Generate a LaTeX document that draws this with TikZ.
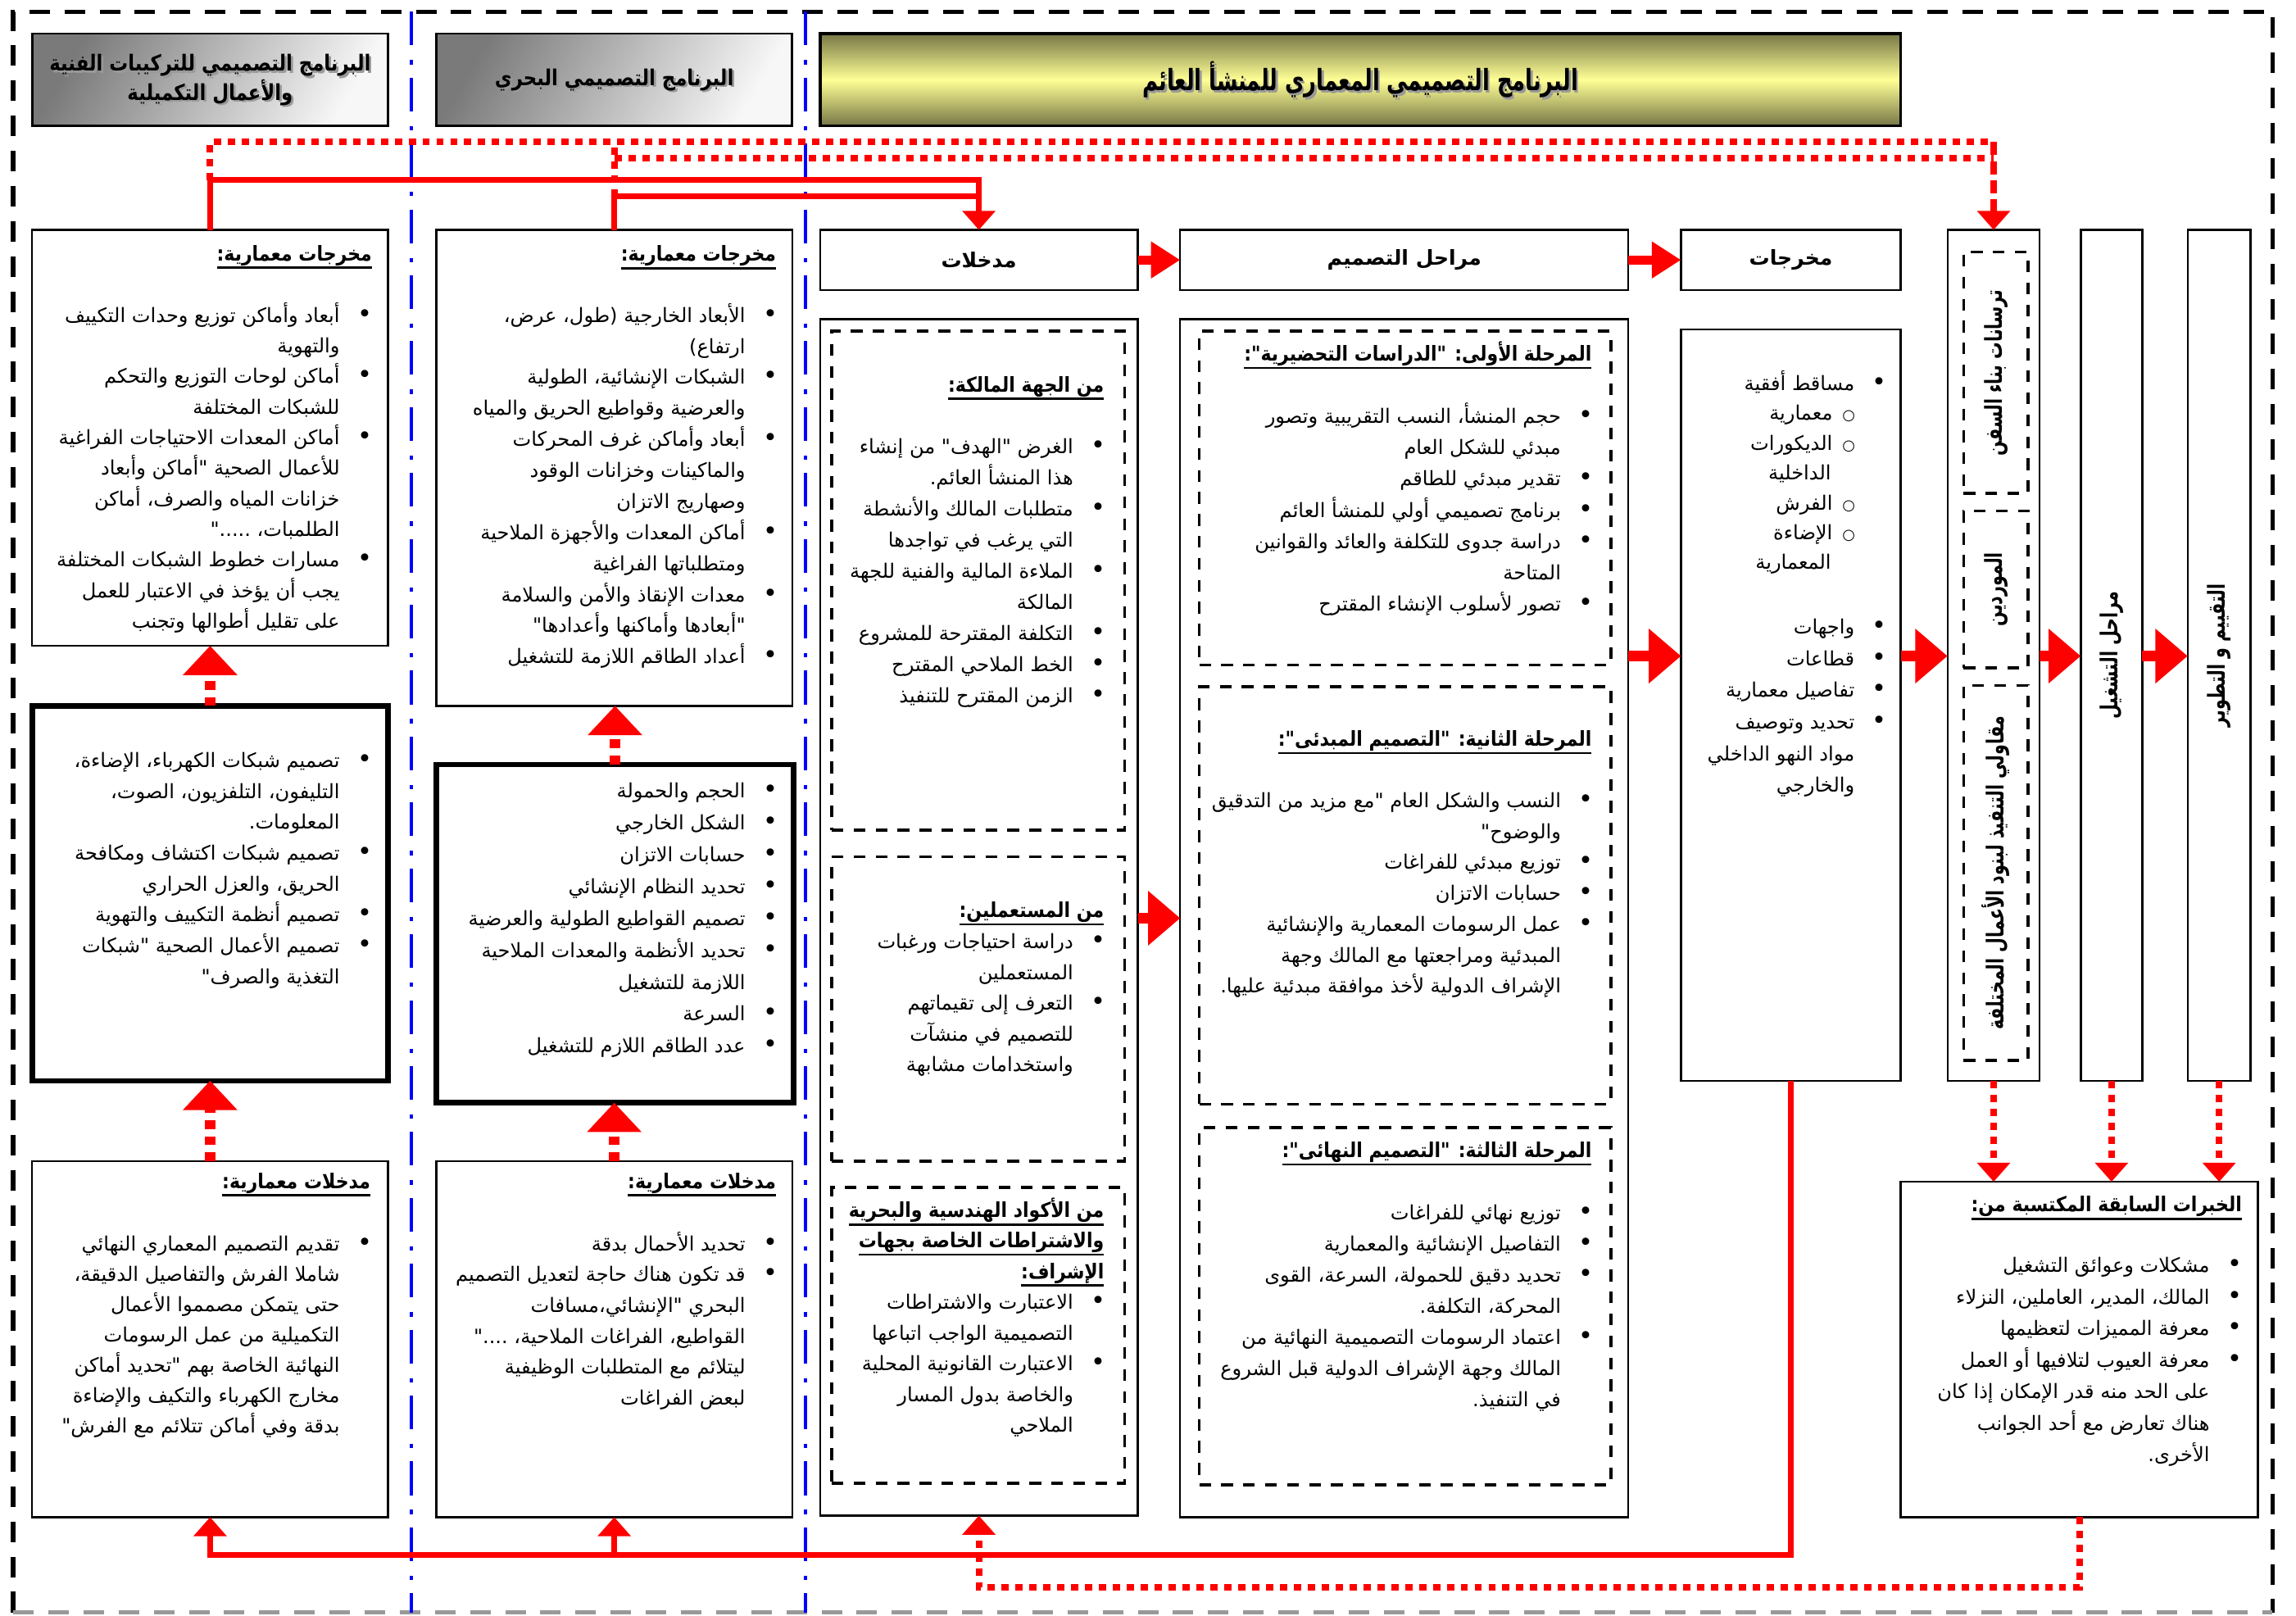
\documentclass[tikz,border=0pt]{standalone}
\usepackage{fontspec}
\usetikzlibrary{arrows.meta}
\TeXXeTstate=1
\newfontfamily\arf[Script=Arabic]{DejaVu Sans}
\newfontfamily\armf[Script=Arabic,FakeStretch=0.85]{DejaVu Sans}
\newfontfamily\artf[Script=Arabic,FakeStretch=0.88]{DejaVu Sans}
\newfontfamily\arcf[Script=Arabic,FakeStretch=0.72]{DejaVu Sans}
\definecolor{hdark}{RGB}{118,118,70}
\definecolor{hlight}{RGB}{255,255,150}
\newcommand\R[1]{\beginR#1\endR}
\newcommand\bul{{\fontsize{17}{17}\selectfont\textbullet}}
\newcommand\bu[1]{\strut\R{#1}\hspace{17pt}\makebox[0pt]{\bul}}
\newcommand\co[1]{\strut\R{#1}\makebox[17pt]{}}
\newcommand\su[1]{\strut\R{#1}\hspace{11pt}\makebox[0pt]{\fontsize{10}{10}\selectfont ○}\makebox[21pt]{}}
\newcommand\suc[1]{\strut\R{#1}\makebox[33pt]{}}
\newcommand\ul[1]{\setbox0=\hbox{#1}\rlap{\rule[-5.5pt]{\wd0}{1.4pt}}\box0}
\newcommand\bsz{13.5}
\newcommand\tb[5]{\node[anchor=north east,inner sep=0pt,outer sep=0pt,align=right,font=\arf\fontsize{\bsz}{#4}\selectfont] (#1) at ({#2},{#3+4-0.7*#4}) {#5};}
\newcommand\tit[4]{\node[anchor=base east,inner sep=0pt,outer sep=0pt,font=\artf\bfseries\fontsize{14}{20}\selectfont] (#1) at ({#2},{#3+4.5}) {\ul{#4}};}
\newcommand\bx[6]{\node[#1,anchor=north west,minimum width=#5pt,minimum height=#6pt] (#2) at (#3,#4) {};}
\begin{document}
\begin{tikzpicture}[x=1pt,y=-1pt,
 box/.style={draw=black,line width=1.3pt,fill=white,inner sep=0pt,outer sep=0pt},
 tbox/.style={box,line width=3.6pt},
 dbox/.style={draw=black,line width=2pt,dash pattern=on 8pt off 7pt,inner sep=0pt,outer sep=0pt},
 gbox/.style={box,line width=1.5pt,left color=black!52,right color=black!3,shading angle=60},
 ybox/.style={box,line width=2pt,top color=hdark,bottom color=hdark,middle color=hlight},
 rsolid/.style={draw=red,line width=4pt},
 rdot/.style={draw=red,line width=4.5pt,dash pattern=on 5pt off 4.5pt},
 bluedd/.style={draw=blue,line width=2.5pt,dash pattern=on 23pt off 10pt on 3pt off 9pt},
 bord/.style={draw=black,line width=3pt,dash pattern=on 14pt off 10pt},
 tipS/.style={-{Triangle[length=13pt,width=22pt]}},
 rbig/.style={draw=red,line width=7pt,-{Triangle[length=22pt,width=36pt]}},
 rhead/.style={draw=red,line width=6pt,-{Triangle[length=20pt,width=24pt]}},
 rvup/.style={draw=red,line width=7pt,dash pattern=on 6pt off 5pt,-{Triangle[length=20pt,width=36pt]}},
 rsup/.style={rsolid,tipS},
 rdotarr/.style={rdot,tipS},
 rdash/.style={draw=red,line width=4.5pt,dash pattern=on 9pt off 4pt,tipS},
 hdr/.style={font=\arf\bfseries\fontsize{14}{20}\selectfont,inner sep=0pt},
 htx/.style={font=\armf\bfseries\fontsize{15}{20}\selectfont,inner sep=0pt,align=center},
 vtx/.style={rotate=90,font=\arcf\bfseries\fontsize{16}{18}\selectfont,inner sep=0pt}
]
\useasboundingbox (0,0) rectangle (1568,1103);
\fill[white] (0,0) rectangle (1568,1103);
% helper levels
\coordinate (yA) at (0,97);
\coordinate (yB) at (0,108);
\coordinate (yC) at (0,123);
\coordinate (yD) at (0,134);
\coordinate (yN) at (0,448);
\coordinate (yM) at (0,627);
\coordinate (yS) at (0,1062);
\coordinate (yT) at (0,1084);
% frame and separators
\draw[bord] (9,1101) -- (9,8) -- (1552,8) -- (1552,1101);
\draw[bord,draw=black!40] (9,1101) -- (1552,1101);
\draw[bluedd] (281,8) -- (281,1101);
\draw[bluedd] (550,8) -- (550,1101);
% header boxes
\bx{gbox}{h1}{22}{23}{243}{63}
\bx{gbox}{h2}{298}{23}{243}{63}
\bx{ybox}{h3}{560}{23}{738}{63}
\node[htx,text=black!40,xshift=1.5pt,yshift=-1.5pt] at (h1.center) {\beginR البرنامج التصميمي للتركيبات الفنية\endR\\\beginR والأعمال التكميلية\endR};
\node[htx] (h1t) at (h1.center) {\beginR البرنامج التصميمي للتركيبات الفنية\endR\\\beginR والأعمال التكميلية\endR};
\node[htx,text=black!40,xshift=1.5pt,yshift=-1.5pt] at (h2.center) {\beginR البرنامج التصميمي البحري\endR};
\node[htx] (h2t) at (h2.center) {\beginR البرنامج التصميمي البحري\endR};
\node[inner sep=0pt,font=\arcf\bfseries\fontsize{20}{24}\selectfont,text=black!40,xshift=1.5pt,yshift=-1.5pt] at (h3.center) {\beginR البرنامج التصميمي المعماري للمنشأ العائم\endR};
\node[inner sep=0pt,font=\arcf\bfseries\fontsize{20}{24}\selectfont] (h3t) at (h3.center) {\beginR البرنامج التصميمي المعماري للمنشأ العائم\endR};
% column 1 and 2 boxes
\bx{box}{a1}{22}{157}{243}{284}
\bx{tbox}{b1}{22}{482}{243}{256}
\bx{box}{c1}{22}{793}{243}{243}
\bx{box}{a2}{298}{157}{243}{325}
\bx{tbox}{b2}{298}{522}{244}{231}
\bx{box}{c2}{298}{793}{243}{243}
% inputs
\bx{box}{inH}{560}{157}{217}{41}
\bx{box}{inC}{560}{218}{217}{817}
\bx{dbox}{d1}{568}{226}{200}{341}
\bx{dbox}{d2}{568}{585}{200}{208}
\bx{dbox}{d3}{568}{811}{200}{202}
% phases
\bx{box}{phH}{806}{157}{306}{41}
\bx{box}{phC}{806}{218}{306}{818}
\bx{dbox}{p1}{819}{226}{281}{228}
\bx{dbox}{p2}{819}{469}{281}{285}
\bx{dbox}{p3}{819}{770}{281}{244}
% outputs
\bx{box}{outH}{1148}{157}{150}{41}
\bx{box}{outC}{1148}{225}{150}{513}
% vertical columns
\bx{box}{c6}{1330}{157}{63}{581}
\bx{dbox}{c6a}{1341}{172}{44}{165}
\bx{dbox}{c6b}{1341}{349}{44}{107}
\bx{dbox}{c6c}{1341}{468}{44}{256}
\bx{box}{c7}{1421}{157}{42}{581}
\bx{box}{c8}{1494}{157}{43}{581}
\bx{box}{exp}{1298}{807}{244}{229}
% header labels
\node[hdr] (inHt) at (inH.center) {\beginR مدخلات\endR};
\node[hdr] (phHt) at (phH.center) {\beginR مراحل التصميم\endR};
\node[hdr] (outHt) at (outH.center) {\beginR مخرجات\endR};
% vertical labels
\node[vtx] (c6at) at (c6a.center) {\beginR ترسانات بناء السفن\endR};
\node[vtx] (c6bt) at (c6b.center) {\beginR الموردين\endR};
\node[vtx] (c6ct) at (c6c.center) {\beginR مقاولي التنفيذ لبنود الأعمال المختلفة\endR};
\node[vtx] (c7t) at (c7.center) {\beginR مراحل التشغيل\endR};
\node[vtx] (c8t) at (c8.center) {\beginR التقييم و التطوير\endR};
% A1
\tit{a1h}{254}{173.5}{\beginR مخرجات معمارية:\endR}
\tb{a1x}{249}{216}{20.9}{\bu{أبعاد وأماكن توزيع وحدات التكييف}\\
\co{والتهوية}\\
\bu{أماكن لوحات التوزيع والتحكم}\\
\co{للشبكات المختلفة}\\
\bu{أماكن المعدات الاحتياجات الفراغية}\\
\co{للأعمال الصحية "أماكن وأبعاد}\\
\co{خزانات المياه والصرف، أماكن}\\
\co{الطلمبات، ....."}\\
\bu{مسارات خطوط الشبكات المختلفة}\\
\co{يجب أن يؤخذ في الاعتبار للعمل}\\
\co{على تقليل أطوالها وتجنب}}
% A2
\tit{a2h}{530}{174}{\beginR مخرجات معمارية:\endR}
\tb{a2x}{526}{216}{21.2}{\bu{الأبعاد الخارجية (طول، عرض،}\\
\co{ارتفاع)}\\
\bu{الشبكات الإنشائية، الطولية}\\
\co{والعرضية وقواطيع الحريق والمياه}\\
\bu{أبعاد وأماكن غرف المحركات}\\
\co{والماكينات وخزانات الوقود}\\
\co{وصهاريج الاتزان}\\
\bu{أماكن المعدات والأجهزة الملاحية}\\
\co{ومتطلباتها الفراغية}\\
\bu{معدات الإنقاذ والأمن والسلامة}\\
\co{"أبعادها وأماكنها وأعدادها"}\\
\bu{أعداد الطاقم اللازمة للتشغيل}}
% B1
\tb{b1x}{249}{520}{21.1}{\bu{تصميم شبكات الكهرباء، الإضاءة،}\\
\co{التليفون، التلفزيون، الصوت،}\\
\co{المعلومات.}\\
\bu{تصميم شبكات اكتشاف ومكافحة}\\
\co{الحريق، والعزل الحراري}\\
\bu{تصميم أنظمة التكييف والتهوية}\\
\bu{تصميم الأعمال الصحية "شبكات}\\
\co{التغذية والصرف"}}
% B2
\tb{b2x}{526}{541}{21.75}{\bu{الحجم والحمولة}\\
\bu{الشكل الخارجي}\\
\bu{حسابات الاتزان}\\
\bu{تحديد النظام الإنشائي}\\
\bu{تصميم القواطيع الطولية والعرضية}\\
\bu{تحديد الأنظمة والمعدات الملاحية}\\
\co{اللازمة للتشغيل}\\
\bu{السرعة}\\
\bu{عدد الطاقم اللازم للتشغيل}}
% C1
\tit{c1h}{253}{807}{\beginR مدخلات معمارية:\endR}
\tb{c1x}{249}{850}{20.7}{\bu{تقديم التصميم المعماري النهائي}\\
\co{شاملا الفرش والتفاصيل الدقيقة،}\\
\co{حتى يتمكن مصمموا الأعمال}\\
\co{التكميلية من عمل الرسومات}\\
\co{النهائية الخاصة بهم "تحديد أماكن}\\
\co{مخارج الكهرباء والتكيف والإضاءة}\\
\co{بدقة وفي أماكن تتلائم مع الفرش"}}
% C2
\tit{c2h}{530}{807}{\beginR مدخلات معمارية:\endR}
\tb{c2x}{526}{850}{21.1}{\bu{تحديد الأحمال بدقة}\\
\bu{قد تكون هناك حاجة لتعديل التصميم}\\
\co{البحري "الإنشائي،مسافات}\\
\co{القواطيع، الفراغات الملاحية، ...."}\\
\co{ليتلائم مع المتطلبات الوظيفية}\\
\co{لبعض الفراغات}}
% D1
\tit{d1h}{754}{263}{\beginR من الجهة المالكة:\endR}
\tb{d1x}{750}{305.5}{21.3}{\bu{الغرض "الهدف" من إنشاء}\\
\co{هذا المنشأ العائم.}\\
\bu{متطلبات المالك والأنشطة}\\
\co{التي يرغب في تواجدها}\\
\bu{الملاءة المالية والفنية للجهة}\\
\co{المالكة}\\
\bu{التكلفة المقترحة للمشروع}\\
\bu{الخط الملاحي المقترح}\\
\bu{الزمن المقترح للتنفيذ}}
% D2
\tit{d2h}{754}{622}{\beginR من المستعملين:\endR}
\tb{d2x}{750}{644}{20.9}{\bu{دراسة احتياجات ورغبات}\\
\co{المستعملين}\\
\bu{التعرف إلى تقيماتهم}\\
\co{للتصميم في منشآت}\\
\co{واستخدامات مشابهة}}
% D3
\tit{d3h}{754}{827}{\beginR من الأكواد الهندسية والبحرية\endR}
\tit{d3i}{754}{847.5}{\beginR والاشتراطات الخاصة بجهات\endR}
\tit{d3j}{754}{868.5}{\beginR الإشراف:\endR}
\tb{d3x}{750}{890}{21}{\bu{الاعتبارت والاشتراطات}\\
\co{التصميمية الواجب اتباعها}\\
\bu{الاعتبارت القانونية المحلية}\\
\co{والخاصة بدول المسار}\\
\co{الملاحي}}
% P1
\tit{p1h}{1087}{242}{\beginR المرحلة الأولى: "الدراسات التحضيرية":\endR}
\tb{p1x}{1083}{285}{21.4}{\bu{حجم المنشأ، النسب التقريبية وتصور}\\
\co{مبدئي للشكل العام}\\
\bu{تقدير مبدئي للطاقم}\\
\bu{برنامج تصميمي أولي للمنشأ العائم}\\
\bu{دراسة جدوى للتكلفة والعائد والقوانين}\\
\co{المتاحة}\\
\bu{تصور لأسلوب الإنشاء المقترح}}
% P2
\tit{p2h}{1087}{505}{\beginR المرحلة الثانية: "التصميم المبدئى":\endR}
\tb{p2x}{1083}{547.5}{21.1}{\bu{النسب والشكل العام "مع مزيد من التدقيق}\\
\co{والوضوح"}\\
\bu{توزيع مبدئي للفراغات}\\
\bu{حسابات الاتزان}\\
\bu{عمل الرسومات المعمارية والإنشائية}\\
\co{المبدئية ومراجعتها مع المالك وجهة}\\
\co{الإشراف الدولية لأخذ موافقة مبدئية عليها.}}
% P3
\tit{p3h}{1087}{786}{\beginR المرحلة الثالثة: "التصميم النهائى":\endR}
\tb{p3x}{1083}{829}{21.3}{\bu{توزيع نهائي للفراغات}\\
\bu{التفاصيل الإنشائية والمعمارية}\\
\bu{تحديد دقيق للحمولة، السرعة، القوى}\\
\co{المحركة، التكلفة.}\\
\bu{اعتماد الرسومات التصميمية النهائية من}\\
\co{المالك وجهة الإشراف الدولية قبل الشروع}\\
\co{في التنفيذ.}}
% outputs
\tb{o1x}{1283.5}{262.5}{20.4}{\bu{مساقط أفقية}\\
\su{معمارية}\\
\su{الديكورات}\\
\suc{الداخلية}\\
\su{الفرش}\\
\su{الإضاءة}\\
\suc{المعمارية}}
\tb{o2x}{1283.5}{429}{21.6}{\bu{واجهات}\\
\bu{قطاعات}\\
\bu{تفاصيل معمارية}\\
\bu{تحديد وتوصيف}\\
\co{مواد النهو الداخلي}\\
\co{والخارجي}}
% experience
\tit{exh}{1531}{823}{\beginR الخبرات السابقة المكتسبة من:\endR}
\tb{exx}{1526}{865}{21.5}{\bu{مشكلات وعوائق التشغيل}\\
\bu{المالك، المدير، العاملين، النزلاء}\\
\bu{معرفة المميزات لتعظيمها}\\
\bu{معرفة العيوب لتلافيها أو العمل}\\
\co{على الحد منه قدر الإمكان إذا كان}\\
\co{هناك تعارض مع أحد الجوانب}\\
\co{الأخرى.}}
% ---- connectors ----
\draw[rdot] (a1.north |- yC) -- (a1.north |- yA) -- (c6.north |- yA);
\draw[rdot] (a2.north |- yD) -- (a2.north |- yA);
\draw[rdot] (a2.north |- yB) -- (c6.north |- yB);
\draw[rdash] (c6.north |- yA) -- (c6.north);
\draw[rsolid] (a2.north) -- (a2.north |- yD) -- (inH.north |- yD);
\draw[rsolid,tipS] (a1.north) -- (a1.north |- yC) -| (inH.north);
\draw[rhead] (inH.east) -- (phH.west);
\draw[rhead] (phH.east) -- (outH.west);
\draw[rbig] (inC.east |- yM) -- (phC.west |- yM);
\draw[rbig] (phC.east |- yN) -- (outC.west |- yN);
\draw[rbig] (outC.east |- yN) -- (c6.west |- yN);
\draw[rbig] (c6.east |- yN) -- (c7.west |- yN);
\draw[rbig] (c7.east |- yN) -- (c8.west |- yN);
\draw[rvup] (b1.north) -- (b1.north |- a1.south);
\draw[rvup] (c1.north) -- (c1.north |- b1.south);
\draw[rvup] (b2.north) -- (b2.north |- a2.south);
\draw[rvup] (c2.north) -- (c2.north |- b2.south);
\draw[rsolid,tipS] (outC.south) -- (outC.south |- yS) -| (c1.south);
\draw[rsup] (c2.south |- yS) -- (c2.south);
\draw[rdotarr] (exp.south) -- (exp.south |- yT) -| (inC.south);
\draw[rdotarr] (c6.south) -- (c6.south |- exp.north);
\draw[rdotarr] (c7.south) -- (c7.south |- exp.north);
\draw[rdotarr] (c8.south) -- (c8.south |- exp.north);
\end{tikzpicture}
\end{document}
